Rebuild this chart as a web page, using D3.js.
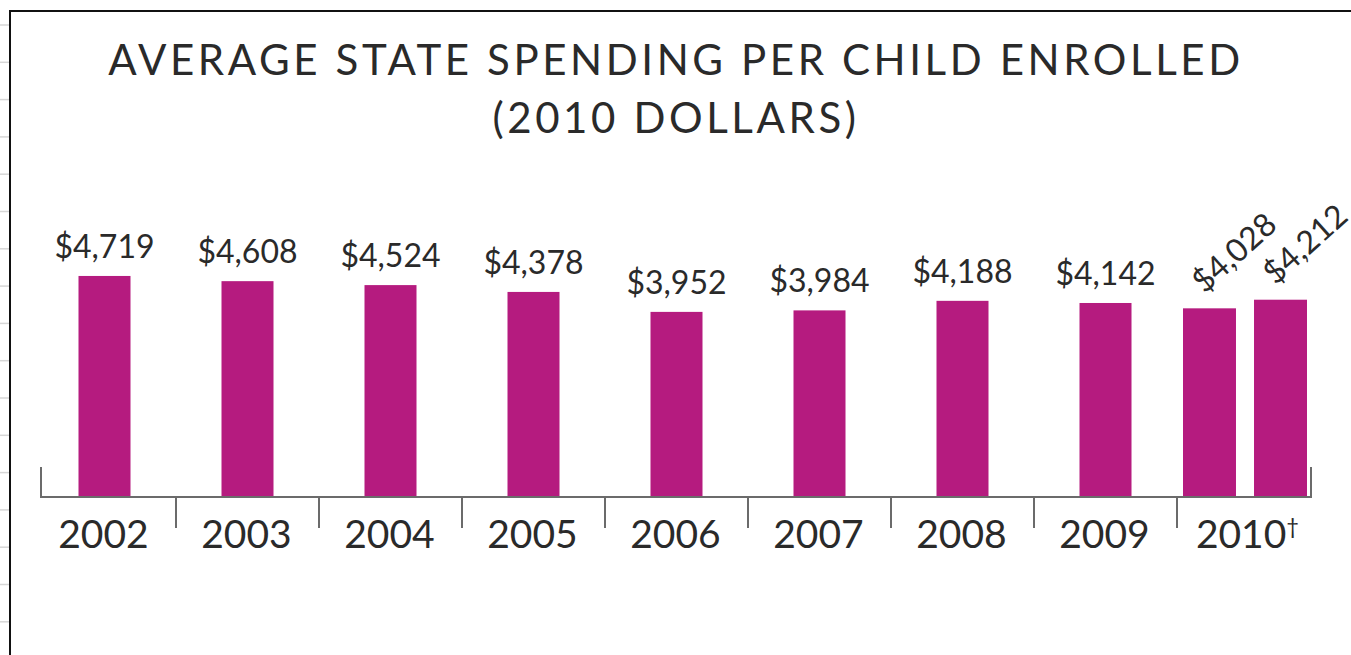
<!DOCTYPE html>
<html>
<head>
<meta charset="utf-8">
<script src="https://cdn.jsdelivr.net/npm/d3@7/dist/d3.min.js"></script>
<style>
  html, body { margin: 0; padding: 0; background: #fff; }
  svg { display: block; }
  text { font-family: Lato, "Noto Sans", sans-serif; fill: #2a2a2a; }
</style>
</head>
<body>
<svg id="chart" width="1351" height="655"></svg>
<script>
// ---- data ----
const titleLines = ["AVERAGE STATE SPENDING PER CHILD ENROLLED", "(2010 DOLLARS)"];
const years = ["2002", "2003", "2004", "2005", "2006", "2007", "2008", "2009", "2010"];
const values = [4719, 4608, 4524, 4378, 3952, 3984, 4188, 4142];
const values2010 = [4028, 4212];
const footnoteMark = "†";

// ---- setup ----
const W = 1351, H = 655;
const svg = d3.select("#chart");
const barColor = "#b51b7f";
const axisColor = "#6b6b6b";

// spreadsheet-like faint lines at the far left
svg.append("g").selectAll("line")
  .data(d3.range(25, H, 37.3))
  .join("line")
  .attr("x1", 0).attr("x2", 10)
  .attr("y1", d => d).attr("y2", d => d)
  .attr("stroke", "#d6d6d6").attr("stroke-width", 1.5);

// frame
svg.append("path")
  .attr("d", `M10,${H} L10,11 L${W},11`)
  .attr("fill", "none").attr("stroke", "#111").attr("stroke-width", 2);

// title
svg.append("g").selectAll("text")
  .data(titleLines)
  .join("text")
  .attr("x", 676).attr("y", (d, i) => 75 + i * 58)
  .attr("text-anchor", "middle")
  .style("font-size", "42px")
  .style("letter-spacing", "3.6px")
  .text(d => d);

// scales
const baseY = 497;
const x = d3.scaleBand().domain(years).range([33, 1320]).padding(0);
const y = d3.scaleLinear().domain([0, 5000]).range([baseY, baseY - 234.2]);
const barW = 52;

const singles = values.map((v, i) => ({ year: years[i], value: v }));
const sub = d3.scaleBand().domain(d3.range(values2010.length))
  .range([6, 130]).paddingInner(0.254).paddingOuter(0);
const doubles = values2010.map((v, i) => ({ year: years[years.length - 1], idx: i, value: v }));

// bars
svg.append("g").selectAll("rect")
  .data(singles)
  .join("rect")
  .attr("x", d => x(d.year) + x.bandwidth() / 2 - barW / 2)
  .attr("width", barW)
  .attr("y", d => y(d.value))
  .attr("height", d => baseY - y(d.value))
  .attr("fill", barColor);

svg.append("g").selectAll("rect")
  .data(doubles)
  .join("rect")
  .attr("x", d => x(d.year) + sub(d.idx))
  .attr("width", sub.bandwidth())
  .attr("y", d => y(d.value))
  .attr("height", d => baseY - y(d.value))
  .attr("fill", barColor);

const fmt = d3.format("$,");

// value labels
svg.append("g").selectAll("text")
  .data(singles)
  .join("text")
  .attr("x", d => x(d.year) + x.bandwidth() / 2)
  .attr("y", d => y(d.value) - 18)
  .attr("text-anchor", "middle")
  .style("font-size", "32px")
  .text(d => fmt(d.value));

svg.append("g").selectAll("text")
  .data(doubles)
  .join("text")
  .attr("transform", d => {
    const cx = x(d.year) + sub(d.idx) + sub.bandwidth() / 2 - 5;
    const cy = y(d.value) - 14;
    return `translate(${cx},${cy}) rotate(-42)`;
  })
  .attr("text-anchor", "start")
  .style("font-size", "32px")
  .text(d => fmt(d.value));

// axis
const axisG = svg.append("g").attr("stroke", axisColor).attr("stroke-width", 2).attr("fill", "none");
axisG.append("path")
  .attr("d", `M41,467 L41,${baseY} L1311,${baseY} L1311,467`);
axisG.selectAll("line.div")
  .data(years.slice(1))
  .join("line")
  .attr("class", "div")
  .attr("x1", d => x(d)).attr("x2", d => x(d))
  .attr("y1", baseY).attr("y2", 528);

// year labels
const labels = svg.append("g").selectAll("text")
  .data(years)
  .join("text")
  .attr("x", d => x(d) + x.bandwidth() / 2 - 1)
  .attr("y", 548)
  .attr("text-anchor", "middle")
  .style("font-size", "39px");
labels.append("tspan").text(d => d);
labels.filter((d, i) => i === years.length - 1)
  .append("tspan")
  .attr("dy", -14)
  .style("font-size", "22px")
  .text(footnoteMark);
</script>
</body>
</html>
